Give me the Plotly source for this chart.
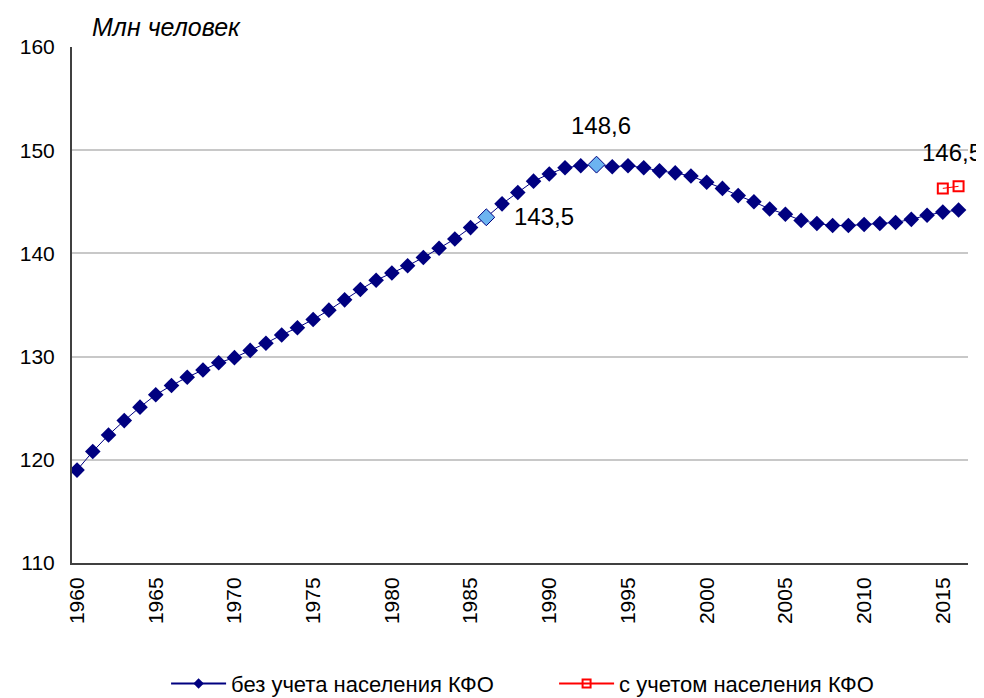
import plotly.graph_objects as go

years = list(range(1960, 2017))
pop_without = [119.0, 120.8, 122.4, 123.8, 125.1, 126.3, 127.2, 128.0, 128.7, 129.4,
               129.9, 130.6, 131.3, 132.1, 132.8, 133.6, 134.5, 135.5, 136.5, 137.4,
               138.1, 138.8, 139.6, 140.5, 141.4, 142.5, 143.5, 144.8, 145.9, 147.0,
               147.7, 148.3, 148.5, 148.6, 148.4, 148.5, 148.3, 148.0, 147.8, 147.5,
               146.9, 146.3, 145.6, 145.0, 144.3, 143.8, 143.2, 142.9, 142.7, 142.7,
               142.8, 142.9, 143.0, 143.3, 143.7, 144.0, 144.2]
years_with = [2015, 2016]
pop_with = [146.3, 146.5]
highlight_years = [1986, 1993]
highlight_vals = [143.5, 148.6]
y_ticks = [110, 120, 130, 140, 150, 160]
x_ticks = list(range(1960, 2016, 5))

FONT = "Liberation Sans, Arial, sans-serif"
NAVY = "#000080"
RED = "#ff0000"
NAME1 = "без учета населения КФО"
NAME2 = "с учетом населения КФО"

fig = go.Figure()
fig.add_trace(go.Scatter(
    x=years, y=pop_without, mode="lines+markers", name=NAME1, showlegend=False,
    line=dict(color=NAVY, width=1),
    marker=dict(symbol="diamond", size=12, color=NAVY, line=dict(width=0)),
))
fig.add_trace(go.Scatter(
    x=highlight_years, y=highlight_vals, mode="markers", showlegend=False,
    marker=dict(symbol="diamond", size=13, color="#6cb4f0", line=dict(width=1, color=NAVY)),
    hoverinfo="skip",
))
fig.add_trace(go.Scatter(
    x=years_with, y=pop_with, mode="lines+markers", name=NAME2, showlegend=False,
    line=dict(color=RED, width=1),
    marker=dict(symbol="square-open", size=10, color=RED, line=dict(width=2)),
))
# legend-only entries with smaller symbols
fig.add_trace(go.Scatter(
    x=[None], y=[None], mode="lines+markers", name=NAME1,
    line=dict(color=NAVY, width=2),
    marker=dict(symbol="diamond", size=8, color=NAVY),
))
fig.add_trace(go.Scatter(
    x=[None], y=[None], mode="lines+markers", name=NAME2,
    line=dict(color=RED, width=2),
    marker=dict(symbol="square-open", size=8, color=RED, line=dict(width=2)),
))

fmt = lambda v: f"{v:.1f}".replace(".", ",")
AF = dict(family=FONT, size=24, color="#000000")
fig.add_annotation(x=1993, y=148.6, text=fmt(148.6), showarrow=False, yshift=39, xshift=4,
                   font=AF)
fig.add_annotation(x=1986, y=143.5, text=fmt(143.5), showarrow=False, xanchor="left",
                   xshift=26, yshift=1, font=AF)
fig.add_annotation(x=2016, y=146.5, text=fmt(146.5), showarrow=False, yshift=34, xshift=-7,
                   font=AF)
fig.add_annotation(xref="paper", yref="paper", x=0.02, y=1.0, yshift=20, xanchor="left",
                   yanchor="middle", text="<i>Млн человек</i>", showarrow=False,
                   font=dict(family=FONT, size=25, color="#000000"))

# page has an 8px body margin: figure is 976x690 placed at (8, 8)
fig.update_layout(
    width=976, height=690,
    margin=dict(l=64, r=16, t=39, b=135, autoexpand=False),
    paper_bgcolor="white", plot_bgcolor="white",
    font=dict(family=FONT, size=21, color="#000000"),
    showlegend=True,
    legend=dict(orientation="h", x=0.105, xanchor="left", y=-0.234, yanchor="middle",
                font=dict(family=FONT, size=22), itemwidth=55, entrywidth=318,
                bgcolor="rgba(0,0,0,0)"),
    xaxis=dict(range=[1959.68, 2016.6], tickmode="array", tickvals=x_ticks,
               ticktext=[str(t) for t in x_ticks], tickangle=-90, showgrid=False,
               showline=True, linecolor="#404040", linewidth=2, ticks="",
               ticklabelstandoff=4, zeroline=False, automargin=False,
               tickfont=dict(family=FONT, size=21)),
    yaxis=dict(range=[110, 160], tickmode="array", tickvals=y_ticks,
               showgrid=True, gridcolor="#c8c8c8", gridwidth=2,
               showline=True, linecolor="#404040", linewidth=2, ticks="",
               ticklabelstandoff=11, zeroline=False, automargin=False,
               tickfont=dict(family=FONT, size=21)),
)
fig.write_html("out.html")
